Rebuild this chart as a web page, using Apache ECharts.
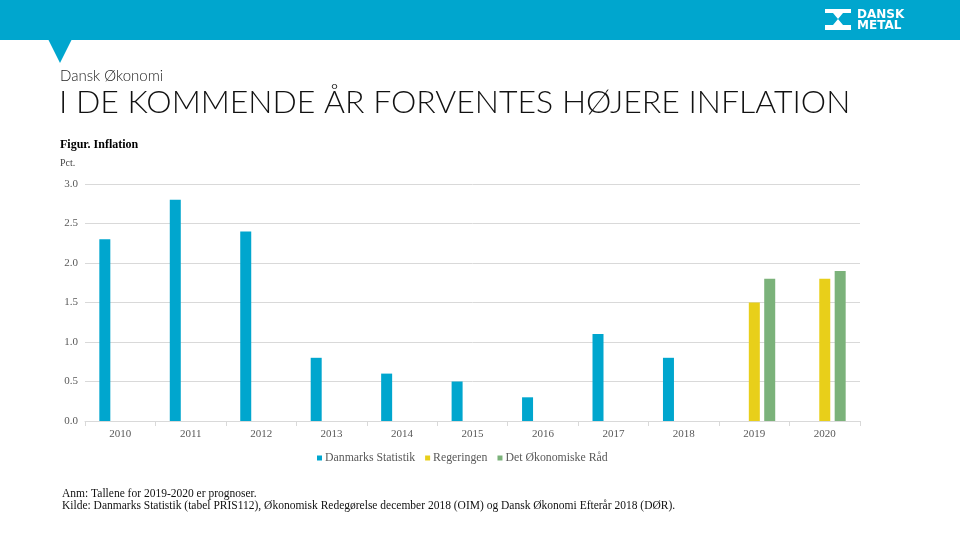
<!DOCTYPE html>
<html><head><meta charset="utf-8">
<script src="https://cdn.jsdelivr.net/npm/echarts@6/dist/echarts.min.js"></script>
<style>html,body{margin:0;padding:0;background:#fff}#c{width:960px;height:540px}</style>
</head><body><div id="c"></div>
<script>
const categories = ['2010','2011','2012','2013','2014','2015','2016','2017','2018','2019','2020'];
const yTicks = ['0.0','0.5','1.0','1.5','2.0','2.5','3.0'];
const seriesNames = ['Danmarks Statistik','Regeringen','Det Økonomiske Råd'];
const danmarksStatistik = [2.3, 2.8, 2.4, 0.8, 0.6, 0.5, 0.3, 1.1, 0.8, null, null];
const regeringen = [null, null, null, null, null, null, null, null, null, 1.5, 1.8];
const oekonomiskeRaad = [null, null, null, null, null, null, null, null, null, 1.8, 1.9];
const colors = ['#00A6CE', '#E8CF1A', '#7BB27A'];

const chart = echarts.init(document.getElementById('c'), null, {renderer:'canvas'});
const bodyFont = 'Liberation Serif';
const mk = (name, data, i) => ({
  name, type:'bar', data, barWidth: 11, barGap: '40%',
  itemStyle:{color: colors[i]}, animation:false
});
chart.setOption({
  animation:false,
  grid:{left:85, right:100, top:184, bottom:119, containLabel:false},
  xAxis:{type:'category', data:categories,
    axisLine:{lineStyle:{color:'#d9d9d9'}},
    axisTick:{show:true, length:5, lineStyle:{color:'#d9d9d9'}},
    axisLabel:{color:'#595959', fontFamily:bodyFont, fontSize:11, margin:8}},
  yAxis:{type:'value', min:0, max:3, interval:0.5,
    axisLine:{show:false}, axisTick:{show:false},
    splitLine:{lineStyle:{color:'#d9d9d9'}},
    axisLabel:{color:'#595959', fontFamily:bodyFont, fontSize:11, margin:7,
      formatter:(v)=>yTicks[Math.round(v/0.5)]}},
  legend:{bottom:71, left:312, itemWidth:5, itemHeight:5, itemGap:10,
    icon:'rect', data:seriesNames,
    textStyle:{color:'#595959', fontFamily:bodyFont, fontSize:11.8, padding:[0,0,0,-2]}},
  series:[mk(seriesNames[0], danmarksStatistik,0), mk(seriesNames[1], regeringen,1), mk(seriesNames[2], oekonomiskeRaad,2)],
  graphic:[
    {type:'rect', shape:{x:0,y:0,width:960,height:40}, style:{fill:'#00A6CE'}, silent:true},
    {type:'polygon', shape:{points:[[48,39],[72,39],[60,63]]}, style:{fill:'#00A6CE'}},
    {type:'polygon', shape:{points:[[825,9],[851,9],[851,13],[843,13],[838,19],[843,25],[851,25],[851,30],[825,30],[825,25],[833,25],[838,19],[833,13],[825,13]]}, style:{fill:'#fff'}},
    {type:'text', left:857, top:9, style:{text:'DANSK\nMETAL', fill:'#fff', font:'bold 12px "DejaVu Sans"', lineHeight:11}},
    {type:'text', left:60, top:69, style:{text:'Dansk Økonomi', fill:'#222', font:'300 15px Lato'}},
    {type:'text', left:59, top:87, style:{text:'I DE KOMMENDE ÅR FORVENTES HØJERE INFLATION', fill:'#111', font:'300 32px Lato'}},
    {type:'text', left:60, top:139, style:{text:'Figur. Inflation', fill:'#000', font:'bold 12px "Liberation Serif"'}},
    {type:'text', left:60, top:158, style:{text:'Pct.', fill:'#444', font:'10px "Liberation Serif"'}},
    {type:'text', left:62, top:488, style:{text:'Anm: Tallene for 2019-2020 er prognoser.\nKilde: Danmarks Statistik (tabel PRIS112), Økonomisk Redegørelse december 2018 (OIM) og Dansk Økonomi Efterår 2018 (DØR).', fill:'#111', font:'11.5px "Liberation Serif"', lineHeight:12}}
  ]
});
</script></body></html>
